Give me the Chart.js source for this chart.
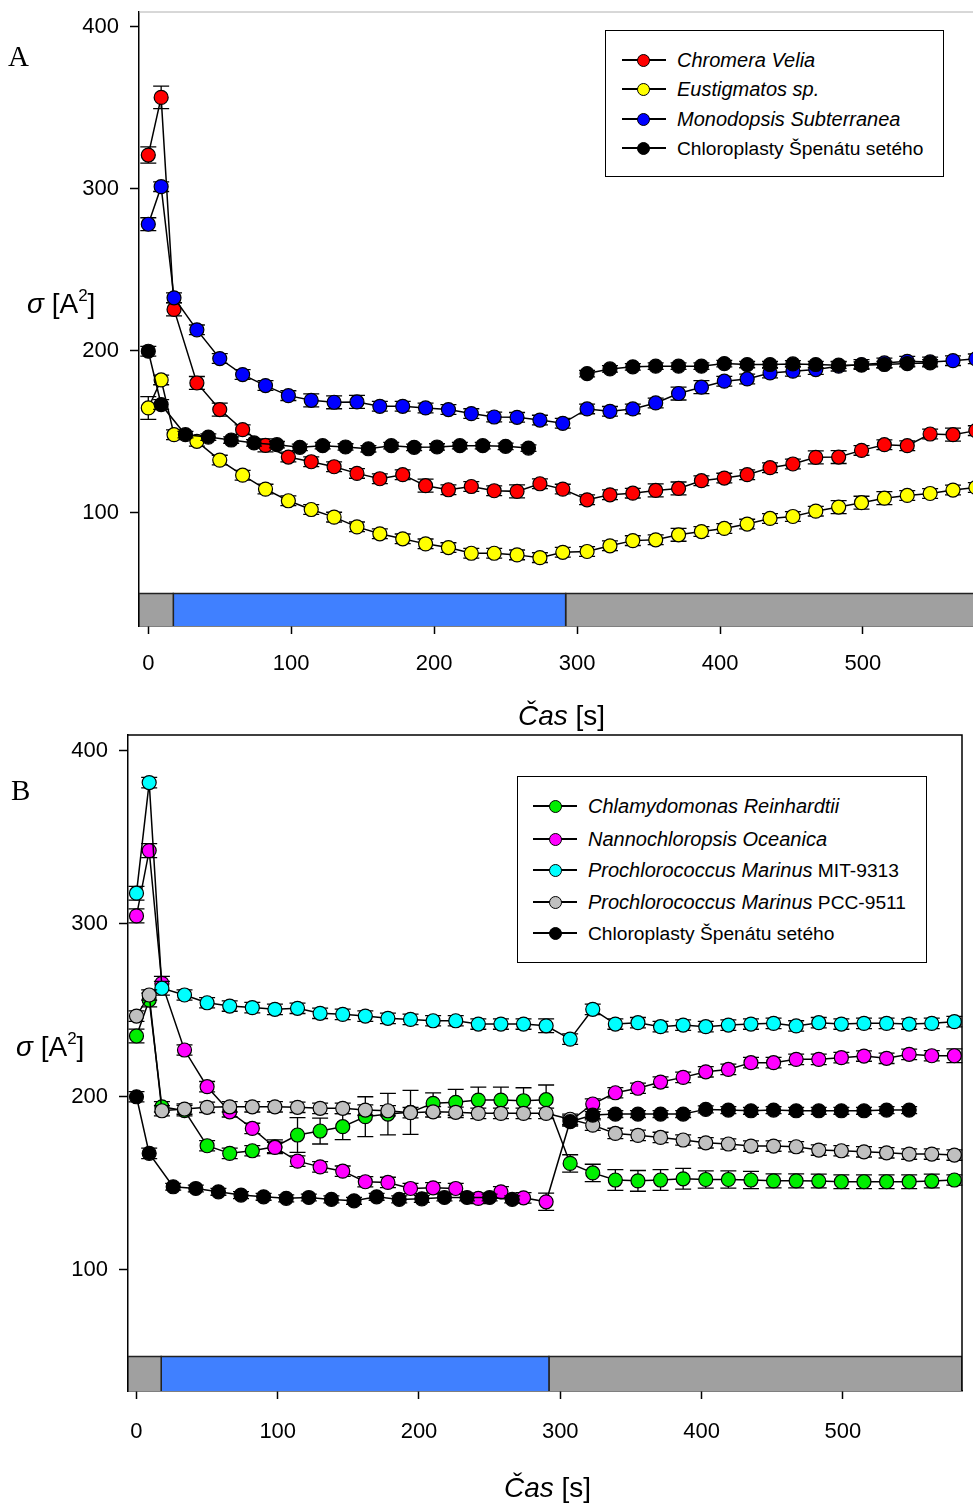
<!DOCTYPE html>
<html>
<head>
<meta charset="utf-8">
<script src="https://cdn.jsdelivr.net/npm/chart.js@4/dist/chart.umd.min.js"></script>
<style>
html, body { margin: 0; padding: 0; overflow: hidden; background: #fff; width: 973px; height: 1504px; }
body { position: relative; font-family: 'Liberation Sans', Arial, sans-serif; color: #000; }
canvas { position: absolute; left: 0; }
#chartA { top: 0; }
#chartB { top: 720px; }
.txt { position: absolute; white-space: nowrap; line-height: 1; }
.panel { font-family: 'Liberation Serif', 'Times New Roman', serif; font-size: 29px; }
.axt { font-size: 28px; }
.legend { position: absolute; border: 1.5px solid #000; background: #fff; box-sizing: border-box; }
.row { position: absolute; height: 24px; line-height: 24px; font-size: 20px; white-space: nowrap; }
.row span { font-size: 19.2px; }
.sym-line { position: absolute; height: 1.5px; background: #000; }
.sym-dot { position: absolute; width: 13px; height: 13px; border: 1.2px solid #000; border-radius: 50%; box-sizing: border-box; }
</style>
</head>
<body>
<canvas id="chartA" width="1000" height="700"></canvas>
<canvas id="chartB" width="973" height="784"></canvas>

<div class="txt panel" style="left:8px; top:42px;">A</div>
<div class="txt panel" style="left:11px; top:776px;">B</div>
<div class="txt axt" style="left:27px; top:290px;"><i>σ</i> [A<sup style="font-size:17px;vertical-align:12px;line-height:0">2</sup>]</div>
<div class="txt axt" style="left:16px; top:1033px;"><i>σ</i> [A<sup style="font-size:17px;vertical-align:12px;line-height:0">2</sup>]</div>
<div class="txt axt" style="left:518px; top:702px;"><i>Čas</i> [s]</div>
<div class="txt axt" style="left:504px; top:1474px;"><i>Čas</i> [s]</div>

<script>
// time points (s)
const T = [0, 9, 18, 34, 50, 66, 82, 98, 114, 130, 146, 162, 178, 194, 210, 226, 242, 258, 274, 290,
           307, 323, 339, 355, 371, 387, 403, 419, 435, 451, 467, 483, 499, 515, 531, 547, 563, 579];
const Tblack = [0, 9, 26, 42, 58, 74, 90, 106, 122, 138, 154, 170, 186, 202, 218, 234, 250, 266, 290,
                307, 323, 339, 355, 371, 387, 403, 419, 435, 451, 467, 483, 499, 515, 531, 547];

// panel A
const redA = [320.7, 356.3, 225.4, 180, 163.6, 151.2, 141.5, 134.3, 131.4, 128.3, 124.2, 120.9, 123.4, 116.6, 114.1, 116.1, 113.5, 113.1, 117.8, 114.5,
              107.9, 111, 112, 113.7, 114.9, 119.7, 121.3, 123.4, 127.7, 130, 134.1, 134.3, 138.4, 141.9, 141.3, 148.5, 148.1, 150.6];
const yellowA = [164.6, 181.9, 148.1, 144, 132.4, 123.1, 114.5, 107.3, 101.9, 97.2, 91.2, 86.9, 83.8, 80.7, 78.4, 74.9, 74.9, 73.9, 72.2, 75.5,
                 76, 79.5, 82.7, 83.2, 86.3, 88.3, 90.2, 92.9, 96.4, 97.6, 100.9, 103.4, 106.1, 108.9, 110.6, 111.8, 113.9, 115.5];
const blueA = [278, 301.2, 232.6, 212.8, 195.1, 185.2, 178.4, 172.2, 169.3, 168.1, 168.3, 165.6, 165.6, 164.6, 163.6, 161.1, 159, 158.8, 157.1, 155.1,
               164, 162.5, 164, 167.7, 173.5, 177.4, 181.1, 182.5, 186.2, 187.3, 188.3, 190.4, 191.4, 192.4, 193.4, 193, 193.8, 194.9];
const blackA = [199.6, 166.7, 148.1, 146.6, 144.8, 143, 141.9, 140.3, 141.3, 140.5, 139.4, 141.3, 140.3, 140.5, 141.3, 141.3, 140.9, 139.8, null,
                185.8, 188.7, 190, 190.4, 190.4, 190.4, 192, 191.4, 191.4, 191.8, 191.4, 191, 191, 191.4, 192, 192.4];

const redErrA = [5, 7, 4, 4, 4, 3, 4, 3, 3, 3, 3, 3, 3, 4, 3, 3, 3, 4, 3, 3, 3, 3, 3, 4, 4, 3, 3, 3, 3, 3, 4, 4, 3, 3, 3, 3, 4, 3];
const yellowErrA = [7, 3, 3, 3, 3, 3, 3, 3, 3, 3, 3, 3, 3, 3, 3, 3, 3, 3, 3, 3, 3, 3, 3, 3, 4, 3, 3, 3, 3, 3, 3, 4, 4, 4, 3, 3, 3, 3];
const blueErrA = [4, 3, 3, 3, 3, 3, 3, 3, 4, 4, 4, 3, 3, 3, 3, 3, 3, 3, 3, 3, 3, 3, 3, 3, 4, 4, 3, 3, 3, 3, 3, 3, 3, 3, 3, 3, 3, 3];
const blackErrA = [3, 3, 2, 2, 2, 2, 2, 2, 2, 2, 2, 2, 2, 2, 2, 2, 2, 2, null, 2, 2, 2, 2, 2, 2, 2, 2, 2, 2, 2, 2, 2, 2, 2, 2];

// panel B
const greenB = [235.1, 255.9, 194.2, 192, 171.7, 167.3, 168.8, 171.1, 177.9, 180.2, 182.7, 188.5, 190, 191, 196.2, 196.8, 198.1, 198.1, 197.7, 198.3,
                161.5, 156, 151.9, 151.4, 151.9, 152.6, 152.2, 152.2, 151.9, 151.4, 151.4, 151.3, 150.9, 150.9, 150.9, 150.9, 151.3, 151.9];
const magentaB = [304.5, 342.2, 265.5, 227, 205.8, 191.3, 181.7, 170.7, 162.8, 159.5, 157, 150.9, 150.5, 147, 147.4, 147, 141.3, 145.1, 141.6, 139.3,
                  186, 195.8, 202.3, 204.9, 208.5, 211.2, 214.4, 215.8, 219.7, 219.7, 221.6, 221.6, 222.6, 223.5, 222.2, 224.5, 223.7, 223.7];
const cyanB = [317.6, 381.5, 262.7, 258.8, 254.3, 252.4, 251.5, 250.5, 251.1, 248.2, 247.6, 246.6, 245.3, 244.7, 243.9, 243.9, 242, 242, 242, 241,
               233.3, 250.5, 242, 242.8, 240.5, 241.4, 240.5, 241.4, 242, 242.4, 240.9, 242.8, 242, 242.4, 242.4, 242, 242.4, 243.4];
const grayB = [246.6, 258.8, 191.9, 192.9, 193.9, 194.2, 194.2, 194.2, 193.9, 193.3, 193.3, 192.3, 191.9, 190.8, 191.3, 191, 190.4, 190.4, 190.4, 190.4,
               187, 183.6, 178.8, 177.7, 176.5, 175, 173.4, 172.7, 171.5, 171.5, 171.1, 169.2, 168.8, 168.2, 167.6, 166.9, 166.9, 166.3];
const blackB = [200, 167.3, 148, 147, 145.1, 143.2, 142.2, 141.3, 141.8, 140.7, 139.9, 142.2, 140.7, 141, 141.8, 141.8, 141.8, 140.7, null,
                185.6, 189.4, 190, 190, 190, 190, 192.7, 192.3, 191.9, 192.3, 191.9, 191.9, 191.9, 191.9, 192.3, 192.3];

const greenErrB = [4, 4, 3, 3, 3, 3, 3, 4, 10, 7.5, 7.5, 11.5, 12, 12.7, 6, 7.5, 7.5, 7.5, 7.5, 8.5, 5, 5, 6, 6, 6, 6, 5, 5, 5, 4, 4, 4, 4, 4, 4, 4, 4, 3];
const magentaErrB = [4, 4, 4, 3, 3, 3, 3, 3, 3, 3, 3, 3, 3, 3, 3, 3, 3, 3, 3, 5, 3, 3, 3, 3, 3, 3, 3, 3, 3, 3, 3, 3, 3, 3, 3, 3, 3, 4];
const cyanErrB = [4, 3, 4, 3, 3, 3, 3, 3, 3, 3, 3, 3, 3, 3, 3, 3, 3, 3, 3, 4, 3, 3, 3, 3, 3, 3, 3, 3, 3, 3, 3, 3, 3, 3, 3, 3, 3, 3];
const grayErrB = [3, 3, 3, 3, 3, 3, 3, 3, 3, 3, 3, 3, 3, 3, 3, 3, 3, 3, 3, 3, 3, 3, 3, 3, 3, 3, 3, 3, 3, 3, 3, 3, 3, 3, 3, 3, 3, 3];
const blackErrB = [3, 3, 2, 2, 2, 2, 2, 2, 2, 2, 2, 2, 2, 2, 2, 2, 2, 2, null, 2, 2, 2, 2, 2, 2, 2, 2, 2, 2, 2, 2, 2, 2, 2, 2];

// ticks and light strip (dark / light / dark)
const xTicks = [0, 100, 200, 300, 400, 500];
const yTicks = [100, 200, 300, 400];
const stripEdgesA = [-6.5, 17.5, 292, 584];
const stripEdgesB = [-6, 17.5, 292, 584.4];
const stripColors = ['#a0a0a0', '#4080ff', '#a0a0a0'];
const stripRange = [30, 50];

// legends
const namesA = ['Chromera Velia', 'Eustigmatos sp.', 'Monodopsis Subterranea', 'Chloroplasty Špenátu setého'];
const italicA = [true, true, true, false];
const colorsA = ['#ff0000', '#ffff00', '#0000ff', '#000000'];
const namesB = ['Chlamydomonas Reinhardtii', 'Nannochloropsis Oceanica', 'Prochlorococcus Marinus', 'Prochlorococcus Marinus', 'Chloroplasty Špenátu setého'];
const suffixB = ['', '', ' MIT-9313', ' PCC-9511', ''];
const italicB = [true, true, true, true, false];
const colorsB = ['#00ee00', '#ff00ff', '#00ffff', '#c0c0c0', '#000000'];

const FONT = "'Liberation Sans', Arial, sans-serif";

function toPoints(xs, ys) {
    return xs.map((x, i) => ({ x: x, y: ys[i] }));
}

function series(xs, ys, err, color, order) {
    return {
        data: toPoints(xs, ys),
        err: err,
        showLine: true,
        spanGaps: false,
        borderColor: '#000',
        borderWidth: 1.5,
        pointRadius: 7,
        pointBackgroundColor: color,
        pointBorderColor: '#000',
        pointBorderWidth: 1.2,
        fill: false,
        order: order
    };
}

function strip(edges) {
    return stripColors.map((c, i) => ({
        data: [
            { x: edges[i], y: stripRange[0] }, { x: edges[i], y: stripRange[1] },
            { x: edges[i + 1], y: stripRange[1] }, { x: edges[i + 1], y: stripRange[0] }
        ],
        showLine: true,
        borderColor: '#222',
        borderWidth: 1.5,
        backgroundColor: c,
        pointRadius: 0,
        fill: { value: stripRange[0] },
        order: 50
    }));
}

const errorBars = {
    id: 'errorBars',
    beforeDatasetDraw(chart, args) {
        const ds = chart.data.datasets[args.index];
        if (!ds.err) return;
        const ctx = chart.ctx;
        const ys = chart.scales.y;
        ctx.save();
        ctx.strokeStyle = '#000';
        ctx.lineWidth = 1.3;
        args.meta.data.forEach((pt, i) => {
            const v = ds.data[i].y, e = ds.err[i];
            if (v == null || e == null) return;
            const top = ys.getPixelForValue(v + e);
            const bot = ys.getPixelForValue(v - e);
            ctx.beginPath();
            ctx.moveTo(pt.x, top); ctx.lineTo(pt.x, bot);
            ctx.moveTo(pt.x - 8, top); ctx.lineTo(pt.x + 8, top);
            ctx.moveTo(pt.x - 8, bot); ctx.lineTo(pt.x + 8, bot);
            ctx.stroke();
        });
        ctx.restore();
    }
};

const frame = {
    id: 'frame',
    afterDraw(chart, args, opts) {
        const a = chart.chartArea, ctx = chart.ctx;
        ctx.save();
        ctx.strokeStyle = opts.color;
        ctx.lineWidth = opts.width;
        ctx.beginPath();
        ctx.moveTo(a.left, a.top);
        ctx.lineTo(a.right, a.top);
        if (opts.right) ctx.lineTo(a.right, a.bottom);
        ctx.stroke();
        ctx.restore();
    }
};

function makeChart(id, datasets, cfg) {
    new Chart(document.getElementById(id), {
        type: 'scatter',
        data: { datasets: datasets },
        plugins: [errorBars, frame],
        options: {
            responsive: false,
            animation: false,
            layout: { padding: { left: 0, top: cfg.top, right: cfg.right, bottom: 0 } },
            plugins: {
                legend: { display: false },
                tooltip: { enabled: false },
                frame: cfg.frame
            },
            scales: {
                x: {
                    type: 'linear',
                    min: cfg.xmin,
                    max: cfg.xmax,
                    afterBuildTicks: s => { s.ticks = xTicks.map(v => ({ value: v })); },
                    afterFit: s => { s.height = cfg.xAxisH; s.paddingLeft = 0; s.paddingRight = 0; },
                    grid: { drawOnChartArea: false, drawTicks: true, tickLength: 8, tickWidth: 1.5, tickColor: '#000' },
                    border: { display: true, color: '#000', width: 1.5 },
                    ticks: { font: { family: FONT, size: 22 }, color: '#000', padding: cfg.xPad, maxRotation: 0, autoSkip: false }
                },
                y: {
                    type: 'linear',
                    min: 30,
                    max: 409,
                    afterBuildTicks: s => { s.ticks = yTicks.map(v => ({ value: v })); },
                    afterFit: s => { s.width = cfg.yAxisW; s.paddingTop = 0; s.paddingBottom = 0; },
                    grid: { drawOnChartArea: false, drawTicks: true, tickLength: 9, tickWidth: 1.5, tickColor: '#000' },
                    border: { display: true, color: '#000', width: 1.5 },
                    ticks: { font: { family: FONT, size: 22 }, color: '#000', padding: 11, autoSkip: false }
                }
            }
        }
    });
}

// drawing order: higher order is drawn first (underneath)
const dsA = [
    series(T, redA, redErrA, colorsA[0], 4),
    series(T, yellowA, yellowErrA, colorsA[1], 3),
    series(T, blueA, blueErrA, colorsA[2], 2),
    series(Tblack, blackA, blackErrA, colorsA[3], 1)
].concat(strip(stripEdgesA));

const dsB = [
    series(T, greenB, greenErrB, colorsB[0], 5),
    series(T, magentaB, magentaErrB, colorsB[1], 4),
    series(T, cyanB, cyanErrB, colorsB[2], 3),
    series(T, grayB, grayErrB, colorsB[3], 2),
    series(Tblack, blackB, blackErrB, colorsB[4], 1)
].concat(strip(stripEdgesB));

makeChart('chartA', dsA, {
    top: 12, right: 17, xmin: stripEdgesA[0], xmax: stripEdgesA[3], xAxisH: 74, yAxisW: 139, xPad: 17,
    frame: { color: '#b0b0b0', width: 1, right: false }
});
makeChart('chartB', dsB, {
    top: 15, right: 11, xmin: stripEdgesB[0], xmax: stripEdgesB[3], xAxisH: 113, yAxisW: 128, xPad: 20,
    frame: { color: '#000', width: 1.5, right: true }
});

function buildLegend(box, names, suffix, italic, colors) {
    const el = document.createElement('div');
    el.className = 'legend';
    el.style.left = box.left + 'px';
    el.style.top = box.top + 'px';
    el.style.width = box.width + 'px';
    el.style.height = box.height + 'px';
    document.body.appendChild(el);
    names.forEach((name, i) => {
        const cy = box.rows[i];
        const line = document.createElement('div');
        line.className = 'sym-line';
        line.style.left = box.lineX0 + 'px';
        line.style.width = (box.lineX1 - box.lineX0) + 'px';
        line.style.top = (cy - 0.75) + 'px';
        document.body.appendChild(line);
        const dot = document.createElement('div');
        dot.className = 'sym-dot';
        dot.style.left = (box.dotX - 6.5) + 'px';
        dot.style.top = (cy - 6.5) + 'px';
        dot.style.background = colors[i];
        document.body.appendChild(dot);
        const row = document.createElement('div');
        row.className = 'row';
        row.style.left = box.textX + 'px';
        row.style.top = (cy - 12) + 'px';
        const main = document.createElement(italic[i] ? 'i' : 'span');
        main.textContent = name;
        row.appendChild(main);
        if (suffix && suffix[i]) {
            const s = document.createElement('span');
            s.textContent = suffix[i];
            row.appendChild(s);
        }
        document.body.appendChild(row);
    });
}

buildLegend({ left: 605, top: 30, width: 339, height: 147, rows: [60, 89, 119, 148], lineX0: 622, lineX1: 666, dotX: 643.5, textX: 677 },
    namesA, null, italicA, colorsA);
buildLegend({ left: 517, top: 776, width: 410, height: 187, rows: [806, 839, 870, 902, 933], lineX0: 533, lineX1: 577, dotX: 555, textX: 588 },
    namesB, suffixB, italicB, colorsB);
</script>
</body>
</html>
